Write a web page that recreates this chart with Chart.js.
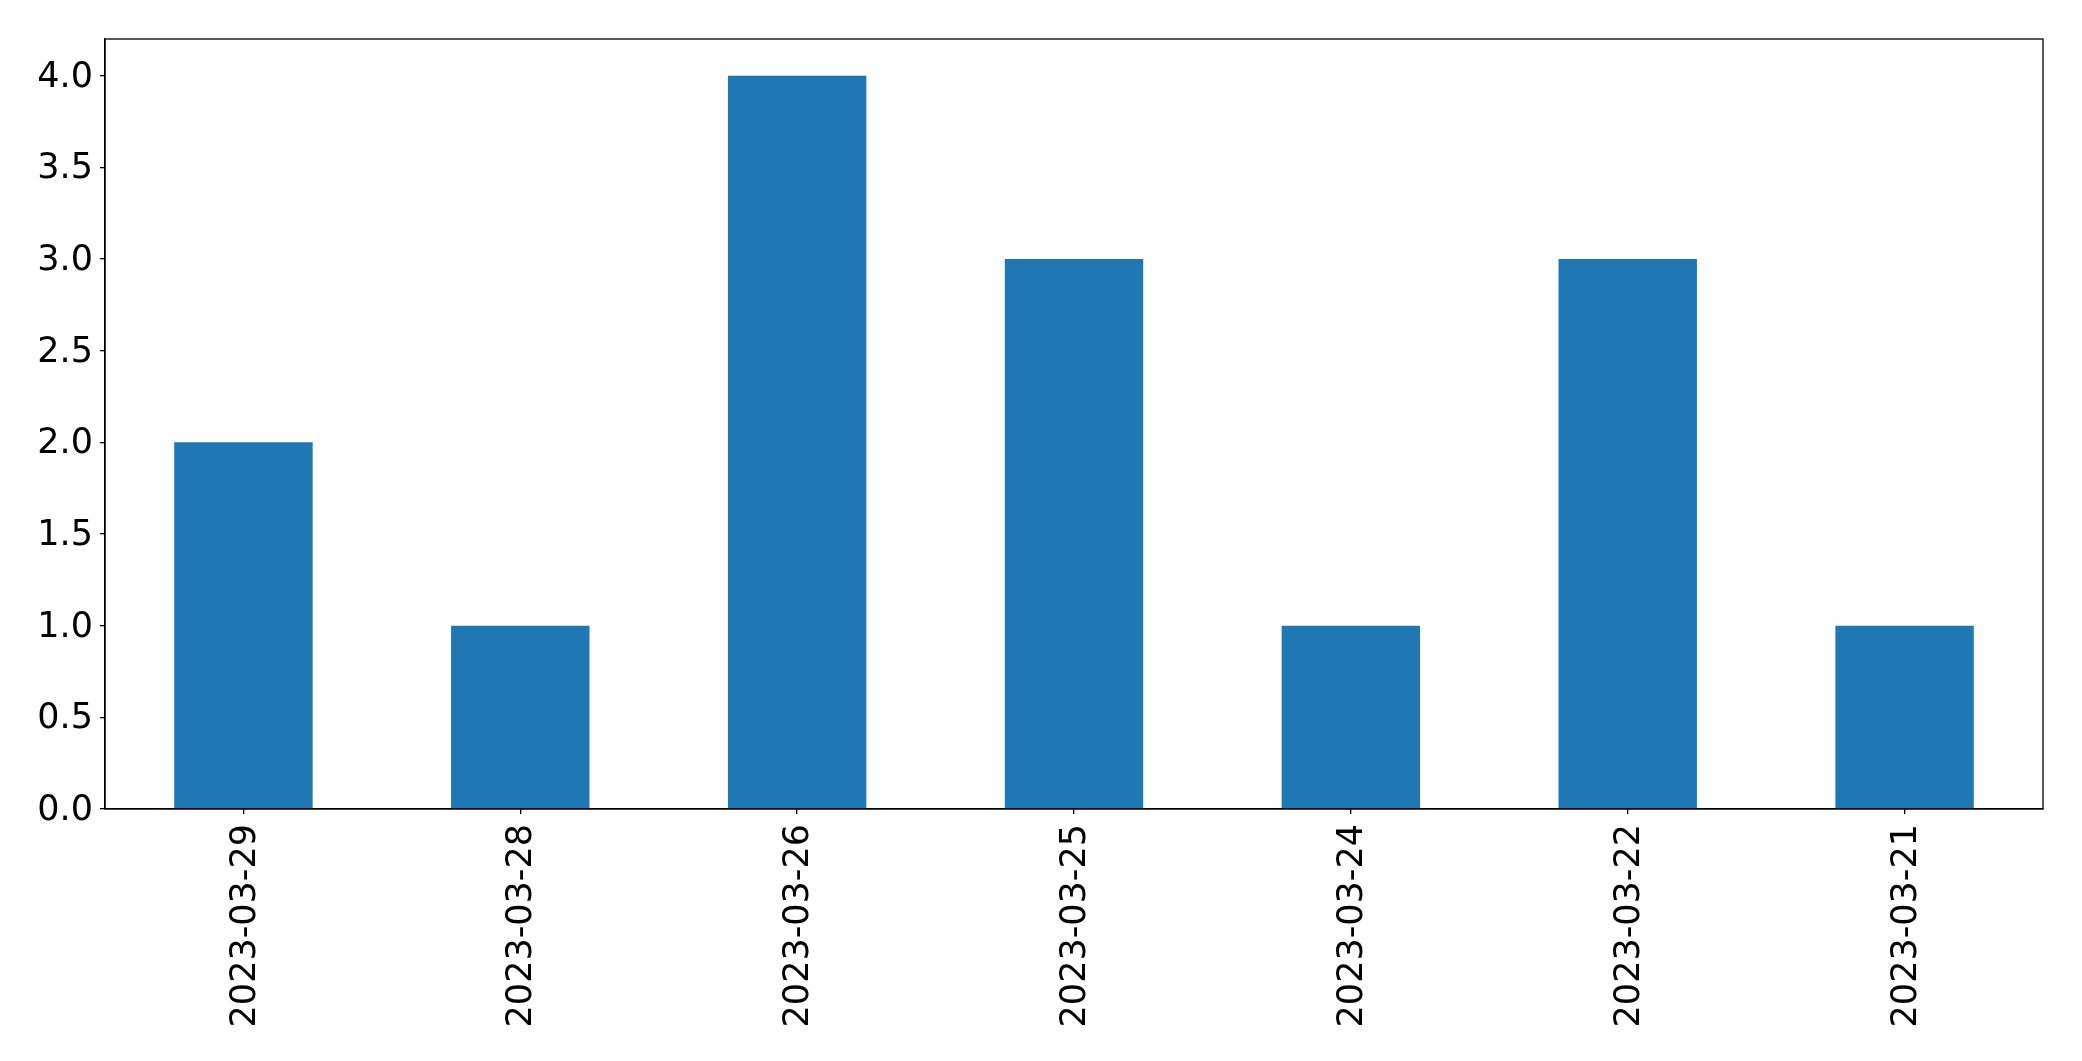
<!DOCTYPE html>
<html>
<head>
<meta charset="utf-8">
<script src="https://cdn.jsdelivr.net/npm/chart.js@4/dist/chart.umd.min.js"></script>
<style>
  html, body { margin: 0; padding: 0; background: #fff; }
  #wrap { width: 2082px; height: 1061px; }
</style>
</head>
<body>
<div id="wrap"><canvas id="barChart" width="2082" height="1061"></canvas></div>
<script>
const dates = ['2023-03-29', '2023-03-28', '2023-03-26', '2023-03-25', '2023-03-24', '2023-03-22', '2023-03-21'];
const counts = [2, 1, 4, 3, 1, 3, 1];
const yTicks = [0, 0.5, 1, 1.5, 2, 2.5, 3, 3.5, 4];

// frame around the plot area (matplotlib style box)
const frameBox = {
    id: 'frameBox',
    afterDraw(chart) {
        const a = chart.chartArea;
        const c = chart.ctx;
        c.save();
        c.strokeStyle = '#000';
        c.lineWidth = 1.3;
        c.strokeRect(a.left, a.top, a.right - a.left, a.bottom - a.top);
        c.restore();
    }
};

const ctx = document.getElementById('barChart').getContext('2d');
new Chart(ctx, {
    type: 'bar',
    data: {
        labels: dates,
        datasets: [{
            data: counts,
            backgroundColor: '#1f77b4',
            borderWidth: 0,
            barPercentage: 0.5,
            categoryPercentage: 1.0
        }]
    },
    options: {
        responsive: false,
        animation: false,
        layout: { padding: { left: 0, right: 39, top: 39, bottom: 0 } },
        plugins: {
            legend: { display: false },
            tooltip: { enabled: false }
        },
        scales: {
            x: {
                afterFit(scale) { scale.height = 252; },
                grid: { offset: false, drawOnChartArea: false, drawTicks: true, tickLength: 5, color: '#000', lineWidth: 1.3 },
                border: { display: true, color: '#000', width: 1.3 },
                ticks: {
                    minRotation: 90,
                    maxRotation: 90,
                    padding: 10,
                    labelOffset: 2,
                    color: '#000',
                    font: { family: 'DejaVu Sans', size: 35 }
                }
            },
            y: {
                min: 0,
                max: 4.2,
                afterFit(scale) { scale.width = 105; },
                afterBuildTicks(scale) { scale.ticks = yTicks.map(v => ({ value: v })); },
                grid: { drawOnChartArea: false, drawTicks: true, tickLength: 5, color: '#000', lineWidth: 1.3 },
                border: { display: true, color: '#000', width: 1.3 },
                ticks: {
                    padding: 7,
                    labelOffset: 2,
                    color: '#000',
                    font: { family: 'DejaVu Sans', size: 35 },
                    callback: v => Number(v).toFixed(1)
                }
            }
        }
    },
    plugins: [frameBox]
});
</script>
</body>
</html>
